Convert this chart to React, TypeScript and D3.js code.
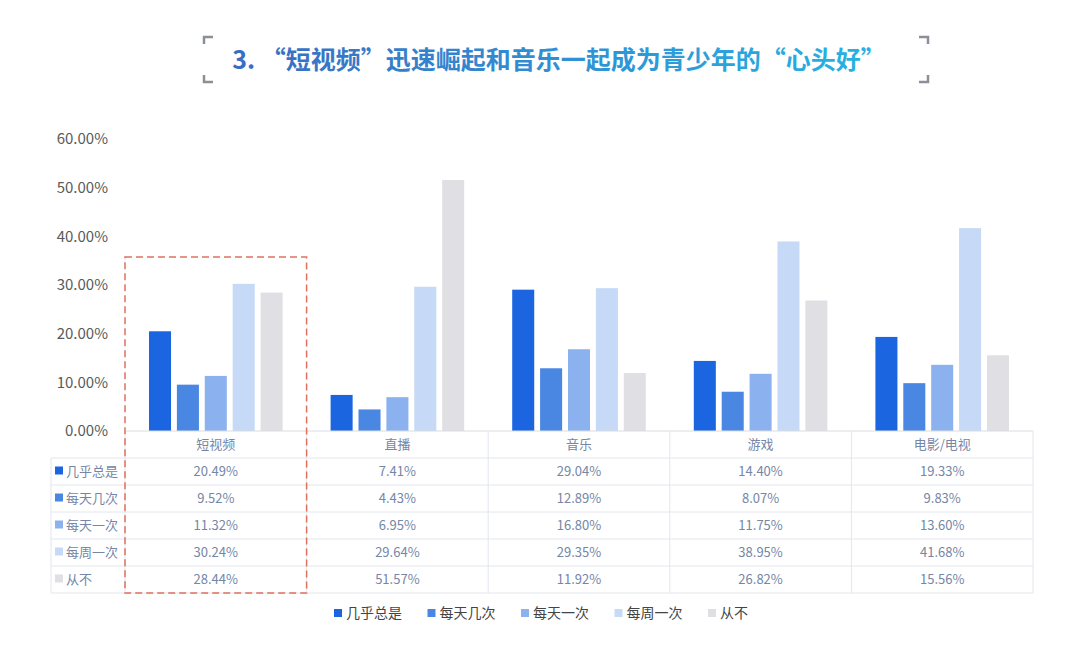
import { useMemo } from "react"
import * as d3 from "d3"

const categories = ["短视频", "直播", "音乐", "游戏", "电影/电视"]
const seriesNames = ["几乎总是", "每天几次", "每天一次", "每周一次", "从不"]
const seriesColors = ["#1b66e0", "#4a87e2", "#8cb1ef", "#c6d9f6", "#e0dfe3"]

// values per series, one per category (percent)
const almostAlways = [20.49, 7.41, 29.04, 14.4, 19.33]
const severalDaily = [9.52, 4.43, 12.89, 8.07, 9.83]
const oncePerDay = [11.32, 6.95, 16.8, 11.75, 13.6]
const oncePerWeek = [30.24, 29.64, 29.35, 38.95, 41.68]
const never = [28.44, 51.57, 11.92, 26.82, 15.56]
const seriesValues = [almostAlways, severalDaily, oncePerDay, oncePerWeek, never]

const yTicks = [0, 10, 20, 30, 40, 50, 60]
const title = "3. “短视频”迅速崛起和音乐一起成为青少年的“心头好”"

const W = 1080
const H = 670
const FONT = "'Noto Sans CJK SC', 'Noto Sans', sans-serif"

export default function App() {
  const plotLeft = 125
  const plotRight = 1033
  const y0 = 431
  const yTop = 139
  const rowH = 27
  const tableLeft = 51

  const x = useMemo(() => d3.scaleBand().domain(categories).range([plotLeft, plotRight]), [])
  const y = useMemo(() => d3.scaleLinear().domain([0, 60]).range([y0, yTop]), [])
  const bw = x.bandwidth()
  const inner = useMemo(
    () => d3.scaleBand().domain(seriesNames).range([24, bw - 24]).paddingInner(0.21),
    [bw]
  )

  const headerBottom = y0 + rowH
  const tableBottom = headerBottom + rowH * seriesNames.length
  const gridColor = "#e3e6ec"
  const cellText = "#7586a6"

  const bracket = (cx: number, cy: number, dx: number, dy: number) =>
    `M${cx + dx * 9},${cy} L${cx},${cy} L${cx},${cy + dy * 7}`

  return (
    <div style={{ position: "absolute", left: 0, top: 0 }}>
      <svg width={W} height={H} style={{ display: "block", background: "#fff" }} fontFamily={FONT}>
        <defs>
          <linearGradient id="titleGrad" x1="0%" x2="100%" y1="0" y2="0">
            <stop offset="0%" stopColor="#3a6cc2" />
            <stop offset="100%" stopColor="#27b3e3" />
          </linearGradient>
        </defs>

        {/* title with corner brackets */}
        <g stroke="#8a8f98" strokeWidth={2.5} fill="none">
          <path d={bracket(204, 37, 1, 1)} />
          <path d={bracket(204, 82, 1, -1)} />
          <path d={bracket(928, 37, -1, 1)} />
          <path d={bracket(928, 82, -1, -1)} />
        </g>
        <text
          x={559}
          y={69}
          textAnchor="middle"
          fontSize={25}
          fontWeight="bold"
          fill="url(#titleGrad)"
        >
          {title}
        </text>

        {/* y axis labels */}
        {yTicks.map((t) => (
          <text
            key={t}
            x={108}
            y={y(t)}
            dy="0.35em"
            textAnchor="end"
            fontSize={15}
            fill="#5a5a5a"
          >
            {t.toFixed(2)}%
          </text>
        ))}

        {/* bars */}
        {categories.map((c, ci) => (
          <g key={c} transform={`translate(${x(c)},0)`}>
            {seriesNames.map((s, si) => {
              const v = seriesValues[si][ci]
              return (
                <rect
                  key={s}
                  x={inner(s)}
                  y={y(v)}
                  width={inner.bandwidth()}
                  height={y0 - y(v)}
                  fill={seriesColors[si]}
                />
              )
            })}
          </g>
        ))}

        {/* axis baseline */}
        <line x1={plotLeft} x2={plotRight} y1={y0} y2={y0} stroke="#d9dce2" />

        {/* data table */}
        <g stroke={gridColor} strokeWidth={1}>
          {d3.range(seriesNames.length + 1).map((i) => (
            <line
              key={i}
              x1={tableLeft}
              x2={plotRight}
              y1={headerBottom + i * rowH}
              y2={headerBottom + i * rowH}
            />
          ))}
          <line x1={tableLeft} x2={tableLeft} y1={headerBottom} y2={tableBottom} />
          {categories.map((c) => (
            <line key={c} x1={x(c)} x2={x(c)} y1={y0} y2={tableBottom} />
          ))}
          <line x1={plotRight} x2={plotRight} y1={y0} y2={tableBottom} />
        </g>
        {categories.map((c) => (
          <text
            key={c}
            x={(x(c) ?? 0) + bw / 2}
            y={y0 + rowH / 2}
            dy="0.35em"
            textAnchor="middle"
            fontSize={13}
            fill={cellText}
          >
            {c}
          </text>
        ))}
        {seriesNames.map((s, si) => {
          const cy = headerBottom + si * rowH + rowH / 2
          return (
            <g key={s}>
              <rect x={55} y={cy - 5} width={8} height={8} fill={seriesColors[si]} />
              <text x={66} y={cy} dy="0.35em" fontSize={13} fill={cellText}>
                {s}
              </text>
              {categories.map((c, ci) => (
                <text
                  key={c}
                  x={(x(c) ?? 0) + bw / 2}
                  y={cy}
                  dy="0.35em"
                  textAnchor="middle"
                  fontSize={13}
                  fill={cellText}
                >
                  {seriesValues[si][ci].toFixed(2)}%
                </text>
              ))}
            </g>
          )
        })}

        {/* highlight box */}
        <rect
          x={x(categories[0])}
          y={257}
          width={bw}
          height={tableBottom - 257}
          fill="none"
          stroke="#e0705e"
          strokeWidth={1.5}
          strokeDasharray="7,4"
        />

        {/* legend */}
        {seriesNames.map((s, i) => {
          const lx = 334 + i * 93.5
          return (
            <g key={s}>
              <rect x={lx} y={609} width={8} height={8} fill={seriesColors[i]} />
              <text x={lx + 12} y={613} dy="0.35em" fontSize={14} fill="#444">
                {s}
              </text>
            </g>
          )
        })}
      </svg>
    </div>
  )
}
